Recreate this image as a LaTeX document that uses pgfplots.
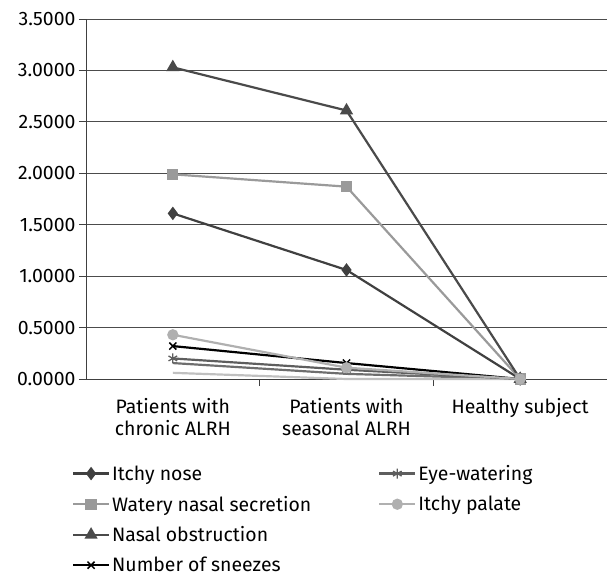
\documentclass[border=0pt]{standalone}
\usepackage{pgfplots}
\pgfplotsset{compat=1.18}
\usepackage{fontspec}
\setmainfont{Fira Sans}
\definecolor{cnose}{HTML}{404040}
\definecolor{cwat}{HTML}{9A9A9A}
\definecolor{cobs}{HTML}{4A4A4A}
\definecolor{csnz}{HTML}{000000}
\definecolor{ceye}{HTML}{5E5E5E}
\definecolor{cpal}{HTML}{B0B0B0}
\definecolor{cx1}{HTML}{6E6E6E}
\definecolor{cx2}{HTML}{C0C0C0}
\begin{document}
\begin{tikzpicture}[x=1bp,y=1bp]
\begin{axis}[
  scale only axis, width=521bp, height=360bp,
  xmin=-0.5, xmax=2.5, ymin=0, ymax=3.5,
  axis x line*=bottom, axis y line*=left,
  axis line style={-, line width=1pt, color=black!75},
  xtick={0,1,2},
  xticklabels={Patients with\\chronic ALRH, Patients with\\seasonal ALRH, Healthy subject},
  xticklabel style={align=center, font=\fontsize{19.5pt}{22pt}\selectfont, yshift=-9bp},
  major x tick style={draw=none},
  minor xtick={0.5,1.5},
  minor x tick style={line width=1pt, color=black!75},
  ytick={0,0.5,...,3.5},
  yticklabel style={font=\fontsize{19.5pt}{22pt}\selectfont, /pgf/number format/fixed, /pgf/number format/fixed zerofill, /pgf/number format/precision=4},
  /pgf/number format/assume math mode=true,
  tick align=outside, major tick length=7bp, minor tick length=7bp,
  y tick style={line width=1pt, color=black!75},
  ymajorgrids, grid style={line width=1pt, color=black!70},
  legend style={at={(-0.033,-0.228)}, anchor=north west, draw=none, fill=none,
    font=\fontsize{19.5pt}{22pt}\selectfont, row sep=10bp,
    /tikz/every even column/.append style={column sep=65bp}},
  legend cell align=left,
  legend columns=2,
  legend image code/.code={\draw[mark repeat=2, mark phase=2, #1] plot coordinates {(0bp,0bp) (18bp,0bp) (36bp,0bp)};},
  every axis plot/.append style={line width=2.2pt},
  clip=false,
]
\addplot[cx1, forget plot] coordinates {(0,0.155) (1,0.05) (2,0)};
\addplot[cx2, forget plot] coordinates {(0,0.06) (1,0.0) (2,0)};
\addplot[cnose, mark=diamond*, mark size=5bp, forget plot] coordinates {(0,1.61) (1,1.06) (2,0)};
\addplot[cwat, mark=square*, mark size=4.5bp, forget plot] coordinates {(0,1.99) (1,1.87) (2,0)};
\addplot[cobs, mark=triangle*, mark size=5.5bp, forget plot] coordinates {(0,3.03) (1,2.61) (2,0)};
\addplot[csnz, mark=x, mark size=5bp, mark options={line width=1.5pt}, forget plot] coordinates {(0,0.32) (1,0.155) (2,0)};
\addplot[ceye, mark=asterisk, mark size=5bp, mark options={line width=1.3pt}, forget plot] coordinates {(0,0.20) (1,0.09) (2,0)};
\addplot[cpal, mark=*, mark size=4.5bp, forget plot] coordinates {(0,0.43) (1,0.11) (2,0)};
\addlegendimage{cnose, line width=2.2pt, mark=diamond*, mark size=5bp}
\addlegendentry{Itchy nose}
\addlegendimage{ceye, line width=2.2pt, mark=asterisk, mark size=5bp, mark options={line width=1.3pt}}
\addlegendentry{Eye-watering}
\addlegendimage{cwat, line width=2.2pt, mark=square*, mark size=4.5bp}
\addlegendentry{Watery nasal secretion}
\addlegendimage{cpal, line width=2.2pt, mark=*, mark size=4.5bp}
\addlegendentry{Itchy palate}
\addlegendimage{cobs, line width=2.2pt, mark=triangle*, mark size=5.5bp}
\addlegendentry{Nasal obstruction}
\addlegendimage{empty legend}
\addlegendentry{}
\addlegendimage{csnz, line width=2.2pt, mark=x, mark size=5bp, mark options={line width=1.5pt}}
\addlegendentry{Number of sneezes}
\end{axis}
\pgfresetboundingbox
\path[use as bounding box] (-86bp,-199bp) rectangle (525bp,379bp);
\end{tikzpicture}
\end{document}
